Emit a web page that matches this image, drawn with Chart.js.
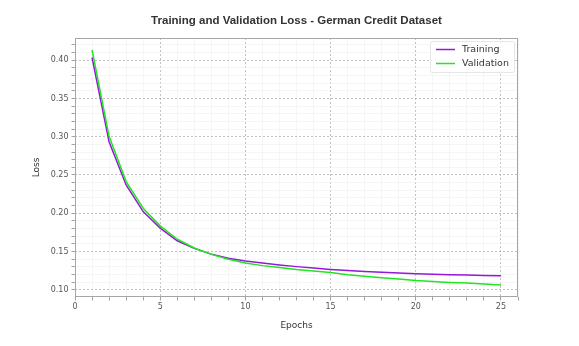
<!DOCTYPE html>
<html>
<head>
<meta charset="utf-8">
<script src="https://cdn.jsdelivr.net/npm/chart.js@4"></script>
<style>
  html, body { margin: 0; padding: 0; background: #ffffff; }
  #wrap { width: 579px; height: 346px; }
</style>
</head>
<body>
<div id="wrap"><canvas id="c" width="579" height="346"></canvas></div>
<script>
const epochs = [1,2,3,4,5,6,7,8,9,10,11,12,13,14,15,16,17,18,19,20,21,22,23,24,25];
const trainingLoss = [0.4035,0.2935,0.2370,0.2021,0.1805,0.1640,0.1540,0.1465,0.1412,0.1375,0.1348,0.1323,0.1302,0.1283,0.1265,0.1250,0.1238,0.1227,0.1218,0.1210,0.1203,0.1197,0.1191,0.1187,0.1183];
const validationLoss = [0.4135,0.3005,0.2413,0.2066,0.1835,0.1660,0.1545,0.1462,0.1398,0.1350,0.1315,0.1290,0.1265,0.1245,0.1225,0.1197,0.1177,0.1157,0.1140,0.1120,0.1106,0.1096,0.1088,0.1075,0.1062];
const seriesNames = ['Training', 'Validation'];
const xMajorTicks = [0, 5, 10, 15, 20, 25];
const yMajorTicks = ['0.10', '0.15', '0.20', '0.25', '0.30', '0.35', '0.40'];
const titleText = 'Training and Validation Loss - German Credit Dataset';

const lineColors = ['#9419d6', '#1fe61f'];

function isMajorX(v) { return xMajorTicks.indexOf(Math.round(v)) >= 0 && Math.abs(v - Math.round(v)) < 1e-6; }
function isMajorY(v) { return yMajorTicks.indexOf(v.toFixed(2)) >= 0 && Math.abs(v * 100 - Math.round(v * 100)) < 1e-6; }

const frameAndLegend = {
  id: 'frameAndLegend',
  afterDatasetsDraw(chart) {
    const ctx = chart.ctx;
    const a = chart.chartArea;
    ctx.save();
    // frame (spines)
    ctx.strokeStyle = '#a6a6a6';
    ctx.lineWidth = 1;
    ctx.strokeRect(Math.round(a.left) + 0.5, Math.round(a.top) + 0.5, Math.round(a.right - a.left) - 1, Math.round(a.bottom - a.top) - 1);
    // legend
    const bx = a.right - 88, by = a.top + 3, bw = 84, bh = 31;
    ctx.fillStyle = 'rgba(255,255,255,0.85)';
    ctx.strokeStyle = '#e6e6e6';
    ctx.beginPath();
    if (ctx.roundRect) ctx.roundRect(bx + 0.5, by + 0.5, bw, bh, 2); else ctx.rect(bx + 0.5, by + 0.5, bw, bh);
    ctx.fill();
    ctx.stroke();
    ctx.font = '9.5px "DejaVu Sans"';
    ctx.textBaseline = 'middle';
    ctx.textAlign = 'left';
    chart.data.datasets.forEach((ds, i) => {
      const y = by + 8.5 + i * 14;
      ctx.strokeStyle = ds.borderColor;
      ctx.lineWidth = 1.5;
      ctx.beginPath();
      ctx.moveTo(bx + 6, y);
      ctx.lineTo(bx + 25, y);
      ctx.stroke();
      ctx.fillStyle = '#333333';
      ctx.fillText(ds.label, bx + 32, y);
    });
    ctx.restore();
  }
};

new Chart(document.getElementById('c'), {
  type: 'line',
  data: {
    datasets: [
      { label: seriesNames[0], data: epochs.map((e, i) => ({x: e, y: trainingLoss[i]})), borderColor: lineColors[0], backgroundColor: lineColors[0], borderWidth: 1.5, pointRadius: 0, tension: 0, order: 1 },
      { label: seriesNames[1], data: epochs.map((e, i) => ({x: e, y: validationLoss[i]})), borderColor: lineColors[1], backgroundColor: lineColors[1], borderWidth: 1.5, pointRadius: 0, tension: 0, order: 0 }
    ]
  },
  options: {
    responsive: false,
    animation: false,
    devicePixelRatio: 1,
    layout: { padding: { left: 0, right: 61, top: 0, bottom: 0 } },
    plugins: {
      legend: { display: false },
      tooltip: { enabled: false },
      title: {
        display: true,
        fullSize: false,
        text: titleText,
        color: '#333333',
        font: { family: '"Liberation Sans", Arial, sans-serif', size: 11.5, weight: 'bold', lineHeight: 1.2 },
        padding: { top: 14, bottom: 10.2 }
      }
    },
    scales: {
      x: {
        type: 'linear',
        min: 0,
        max: 26,
        afterBuildTicks(scale) {
          const t = [];
          for (let v = 0; v <= 26; v++) t.push({ value: v });
          scale.ticks = t;
        },
        afterFit(scale) { scale.height = 49; },
        ticks: {
          autoSkip: false,
          maxRotation: 0,
          color: '#555555',
          padding: 2,
          font: { family: '"DejaVu Sans"', size: 8 },
          callback: (v) => isMajorX(v) ? String(Math.round(v)) : ''
        },
        grid: {
          color: (c) => (c.tick && isMajorX(c.tick.value)) ? '#b3b3b3' : '#eeeeee',
          lineWidth: (c) => (c.tick && isMajorX(c.tick.value)) ? 0.8 : 0.6,
          drawTicks: true,
          tickLength: 3.5,
          tickColor: '#8c8c8c',
          tickWidth: 0.8
        },
        border: {
          display: false,
          dash: (c) => (c.tick && isMajorX(c.tick.value)) ? [2, 2] : []
        },
        title: {
          display: true,
          text: 'Epochs',
          color: '#333333',
          font: { family: '"DejaVu Sans"', size: 9 },
          padding: { top: 0, bottom: 15 }
        }
      },
      y: {
        type: 'linear',
        min: 0.0905,
        max: 0.429,
        afterBuildTicks(scale) {
          const t = [];
          for (let k = 10; k <= 42; k++) t.push({ value: k / 100 });
          scale.ticks = t;
        },
        afterFit(scale) { scale.width = 75; },
        ticks: {
          autoSkip: false,
          color: '#555555',
          padding: 3,
          font: { family: '"DejaVu Sans"', size: 8 },
          callback: (v) => isMajorY(v) ? v.toFixed(2) : ''
        },
        grid: {
          color: (c) => (c.tick && isMajorY(c.tick.value)) ? '#b3b3b3' : '#eeeeee',
          lineWidth: (c) => (c.tick && isMajorY(c.tick.value)) ? 0.8 : 0.6,
          drawTicks: true,
          tickLength: 3.5,
          tickColor: '#8c8c8c',
          tickWidth: 0.8
        },
        border: {
          display: false,
          dash: (c) => (c.tick && isMajorY(c.tick.value)) ? [2, 2] : []
        },
        title: {
          display: true,
          text: 'Loss',
          color: '#333333',
          font: { family: '"DejaVu Sans"', size: 9 },
          padding: { top: 31, bottom: 0 }
        }
      }
    }
  },
  plugins: [frameAndLegend]
});
</script>
</body>
</html>
